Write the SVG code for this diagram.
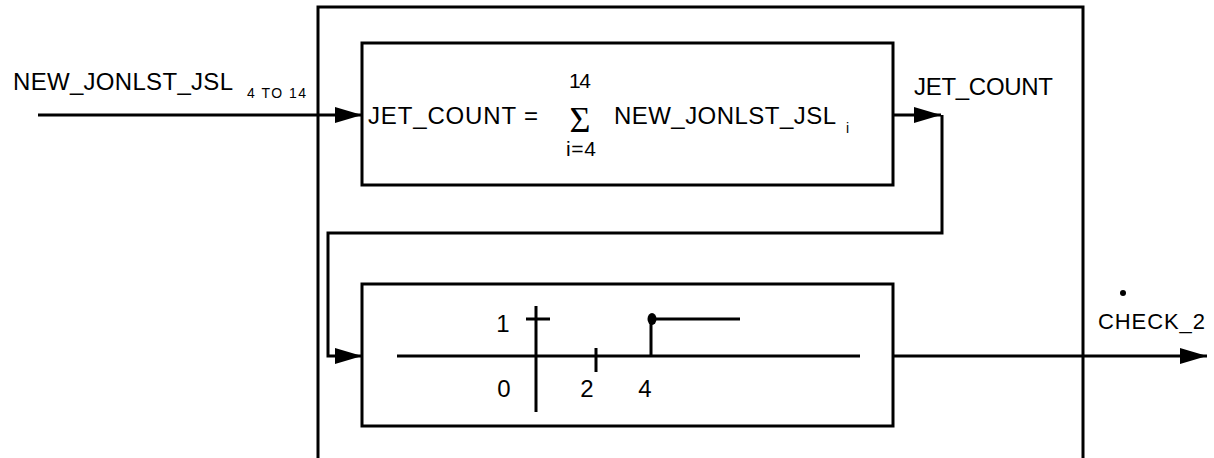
<svg xmlns="http://www.w3.org/2000/svg" width="1214" height="458" viewBox="0 0 1214 458">
<style>
.ln{fill:none;stroke:#000;stroke-width:3}
.bx{fill:#fff;stroke:#000;stroke-width:3}
text{font-family:"Liberation Sans",Arial,sans-serif;fill:#000}
.t{font-size:24px}
.s{font-size:14px}
.d{font-size:21px}
.g{font-size:24px}
</style>
<defs>
<marker id="ah" markerUnits="userSpaceOnUse" markerWidth="27" markerHeight="16" refX="27" refY="8" orient="auto">
<path d="M0,0 L27,8 L0,16 z" fill="#000"/>
</marker>
</defs>
<g id="outer">
<path class="ln" d="M318,462 V7 H1083 V462"/>
</g>
<g id="sum-block">
<rect class="bx" x="362" y="43" width="531" height="142"/>
<text class="t" x="368" y="124" textLength="170" lengthAdjust="spacing">JET_COUNT =</text>
<text class="d" x="569" y="88" textLength="22" lengthAdjust="spacing">14</text>
<text x="580" y="132" text-anchor="middle" style="font-family:'Liberation Serif','DejaVu Serif',serif;font-size:36px">Σ</text>
<text class="d" x="566" y="156" textLength="30" lengthAdjust="spacing">i=4</text>
<text class="t" x="614" y="124" textLength="222" lengthAdjust="spacing">NEW_JONLST_JSL</text>
<text x="846" y="133" style="font-size:14px">i</text>
</g>
<g id="threshold-block">
<rect class="bx" x="362" y="284" width="531" height="142"/>
<path class="ln" d="M397,356 H860 M536,306 V412 M526,319 H550 M596,348 V372 M651,356 V319 H740"/>
<ellipse cx="652" cy="319" rx="4.5" ry="6" fill="#000"/>
<text class="g" x="503" y="332" text-anchor="middle">1</text>
<text class="g" x="504" y="397" text-anchor="middle">0</text>
<text class="g" x="587" y="397" text-anchor="middle">2</text>
<text class="g" x="645" y="397" text-anchor="middle">4</text>
</g>
<g id="connectors">
<path class="ln" d="M38,115 H362" marker-end="url(#ah)"/>
<path class="ln" d="M893,115 H941" marker-end="url(#ah)"/>
<path class="ln" d="M942,115 V233 H328 V356 H362" marker-end="url(#ah)"/>
<path class="ln" d="M893,356 H1207" marker-end="url(#ah)"/>
</g>
<g id="labels">
<text class="t" x="13" y="90" textLength="220" lengthAdjust="spacing">NEW_JONLST_JSL</text>
<text class="s" x="247" y="98" textLength="59" lengthAdjust="spacing">4 TO 14</text>
<text class="t" x="914" y="95" textLength="139" lengthAdjust="spacing">JET_COUNT</text>
<circle cx="1123" cy="293" r="3" fill="#000"/>
<text style="font-size:22px" x="1098" y="329" textLength="107" lengthAdjust="spacing">CHECK_2</text>
</g>
</svg>
